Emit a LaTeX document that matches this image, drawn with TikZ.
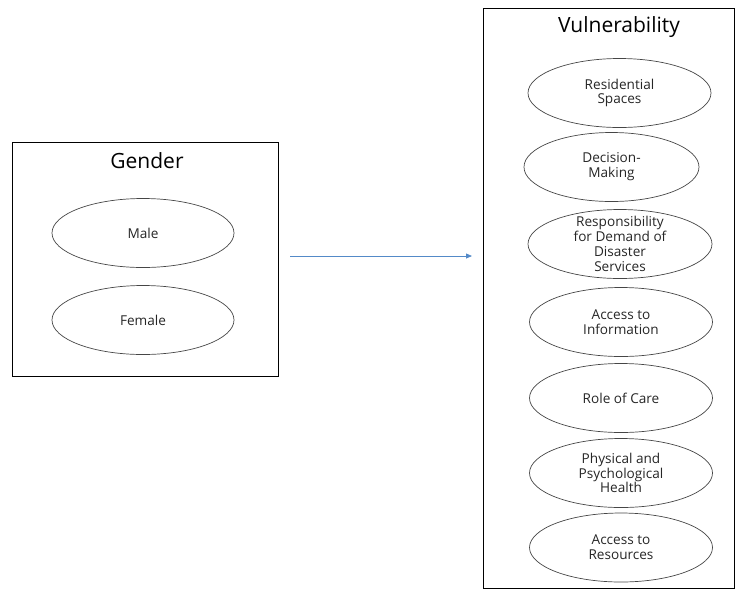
\documentclass[tikz,border=0pt]{standalone}
\usepackage{fontspec}
\setmainfont{Open Sans}
\usetikzlibrary{positioning,arrows.meta,shapes.geometric}
\definecolor{arrblue}{RGB}{84,138,200}
\definecolor{ovalgray}{RGB}{70,70,70}

\begin{document}
\begin{tikzpicture}[x=1pt,y=-1pt,
    box/.style={draw, line width=0.8pt, anchor=north west, inner sep=0pt},
    oval/.style={draw=ovalgray, ellipse, line width=0.7pt, inner sep=0pt, minimum height=69pt},
    ovaltext/.style={align=center, font=\fontsize{13.6}{14.8}\selectfont, text=black!85},
    title/.style={font=\fontsize{21}{24}\selectfont}]
    \useasboundingbox (0,0) rectangle (736,590);

    % gender side
    \node[box, minimum width=266pt, minimum height=234pt] (gender) at (12,142) {};
    \node[title] (gtitle) at (147,161) {Gender};
    \node[oval, minimum width=182pt] (male) at (143,233) {};
    \node[ovaltext] (male-txt) at (male) {Male};
    \node[oval, minimum width=182pt] (female) at (143,320) {};
    \node[ovaltext] (female-txt) at (female) {Female};

    % vulnerability side
    \node[box, minimum width=251pt, minimum height=580pt] (vuln) at (483,8) {};
    \node[title] (vtitle) at (619,27) {Vulnerability};
    \foreach \nm/\cx/\cy/\w/\txt in {
        res/619.5/93/183/{Residential\\Spaces},
        dec/611.5/167/175/{Decision-\\Making},
        resp/620/244/184/{Responsibility\\for Demand of\\Disaster\\Services},
        info/621/322/183/{Access to\\Information},
        care/621/398/183/{Role of Care},
        health/621/473/183/{Physical and\\Psychological\\Health},
        resrc/621/547.5/183/{Access to\\Resources}} {
      \node[oval, minimum width=\w pt] (\nm) at (\cx,\cy) {};
      \node[ovaltext] (\nm-txt) at (\nm) {\txt};
    }

    \coordinate (arr-s) at (290,256);
    \coordinate (arr-e) at (472,256);
    \draw[arrblue, line width=0.8pt, -{Triangle[length=6pt,width=5pt]}] (arr-s) -- (arr-e);
\end{tikzpicture}
\end{document}
